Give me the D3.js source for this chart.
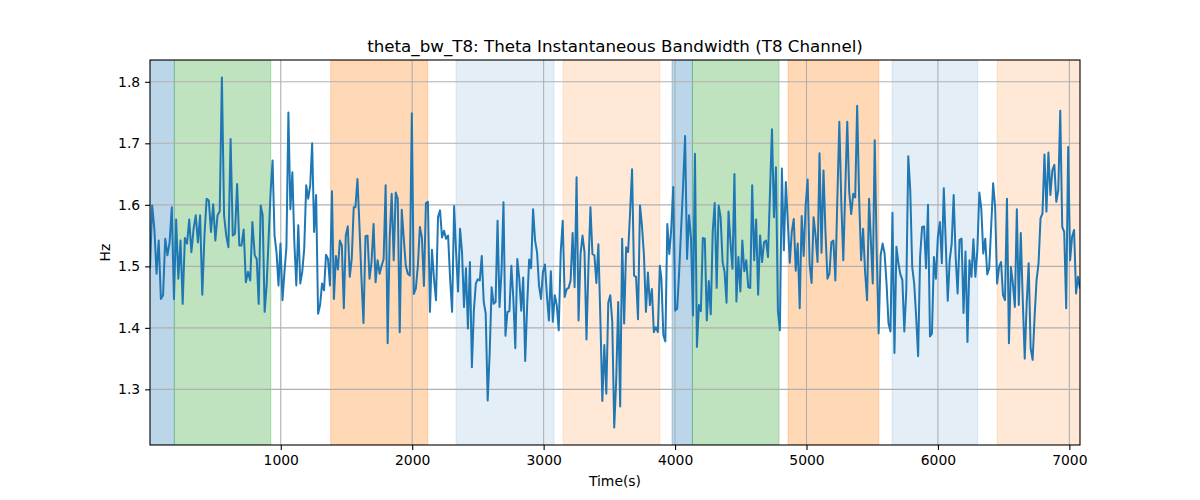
<!DOCTYPE html>
<html><head><meta charset="utf-8">
<script src="https://cdn.jsdelivr.net/npm/d3@7"></script>
<style>body{margin:0;background:#fff} text{font-family:"DejaVu Sans",sans-serif}</style>
</head><body><svg id="chart" width="1200" height="500"></svg>
<script>
// ---- data ----
const titleText = "theta_bw_T8: Theta Instantaneous Bandwidth (T8 Channel)";
const xLabel = "Time(s)";
const yLabel = "Hz";
const xTicks = [1000, 2000, 3000, 4000, 5000, 6000, 7000];
const yTicks = [1.3, 1.4, 1.5, 1.6, 1.7, 1.8];

// recording pieces: start / end time (s) of each traced stretch of samples
const partStart = [5, 802, 1568, 2334, 3130, 3896, 4677, 5504];
const partEnd   = [784, 1555, 2319, 3115, 3884, 4662, 5476, 7081];

const bw1 = [1.496,1.599,1.561,1.488,1.542,1.447,1.453,1.545,1.518,1.539,
1.596,1.447,1.576,1.480,1.542,1.439,1.546,1.537,1.576,1.523,
1.561,1.583,1.539,1.583,1.454,1.550,1.610,1.607,1.556,1.601,
1.542,1.583,1.589,1.807,1.583,1.550,1.531,1.707,1.550,1.553,
1.634,1.534,1.534,1.560,1.474,1.491,1.477,1.572];
const bw2 = [1.518,1.512,1.439,1.599,1.583,1.426,1.469,1.545,1.620,1.672,
1.550,1.523,1.469,1.537,1.445,1.491,1.531,1.750,1.593,1.653,
1.539,1.469,1.567,1.472,1.491,1.529,1.632,1.610,1.631,1.700,
1.556,1.616,1.423,1.437,1.472,1.461,1.519,1.512,1.469,1.622,
1.447,1.517,1.495,1.542,1.534,1.432,1.550,1.565,1.483,1.512,
1.596];
const bw3 = [1.596,1.642,1.566,1.480,1.408,1.549,1.550,1.480,1.507,1.569,
1.474,1.510,1.488,1.501,1.512,1.632,1.375,1.545,1.618,1.510,
1.620,1.610,1.393,1.592,1.545,1.501,1.488,1.485,1.749,1.455,
1.464,1.501,1.564,1.547,1.468,1.603,1.605,1.426,1.527,1.480,
1.445,1.580,1.591,1.547,1.558,1.545,1.550,1.480,1.426,1.598];
const bw4 = [1.523,1.459,1.561,1.523,1.434,1.497,1.399,1.507,1.336,1.428,
1.472,1.479,1.477,1.517,1.442,1.423,1.282,1.358,1.466,1.439,
1.442,1.574,1.434,1.491,1.604,1.387,1.426,1.427,1.501,1.447,
1.367,1.512,1.480,1.428,1.482,1.346,1.437,1.511,1.497,1.593,
1.542,1.523,1.469,1.447,1.491,1.503,1.453,1.412,1.492,1.410,
1.453,1.437,1.396];
const bw5 = [1.523,1.574,1.450,1.463,1.465,1.477,1.554,1.466,1.645,1.412,
1.520,1.550,1.523,1.381,1.501,1.596,1.520,1.518,1.473,1.536,
1.415,1.281,1.372,1.293,1.441,1.453,1.410,1.238,1.315,1.442,
1.272,1.545,1.407,1.531,1.523,1.588,1.658,1.485,1.483,1.414,
1.599,1.566,1.518,1.426,1.490,1.437,1.463,1.393,1.401,1.393,
1.501];
const bw6 = [1.480,1.388,1.378,1.569,1.520,1.561,1.629,1.428,1.431,1.491,
1.561,1.631,1.712,1.512,1.583,1.545,1.420,1.683,1.369,1.437,
1.427,1.546,1.545,1.412,1.476,1.422,1.556,1.603,1.465,1.599,
1.580,1.507,1.491,1.441,1.589,1.539,1.496,1.650,1.443,1.515,
1.459,1.542,1.492,1.510,1.466,1.465,1.632,1.510,1.576,1.454,
1.550,1.507];
const bw7 = [1.539,1.542,1.515,1.620,1.723,1.580,1.661,1.428,1.396,1.659,
1.526,1.637,1.572,1.506,1.556,1.577,1.493,1.537,1.432,1.582,
1.517,1.599,1.641,1.504,1.473,1.580,1.550,1.507,1.684,1.522,
1.656,1.556,1.480,1.488,1.539,1.542,1.477,1.610,1.735,1.604,
1.510,1.626,1.735,1.620,1.585,1.618,1.612,1.761,1.610,1.510,
1.561,1.491,1.445,1.610];
const bw8 = [1.472,1.705,1.526,1.391,1.518,1.537,1.521,1.472,1.407,1.394,
1.587,1.359,1.532,1.505,1.487,1.478,1.394,1.461,1.679,1.624,
1.499,1.472,1.418,1.354,1.516,1.564,1.565,1.497,1.600,1.386,
1.391,1.515,1.480,1.548,1.572,1.505,1.627,1.537,1.444,1.510,
1.537,1.616,1.516,1.456,1.543,1.545,1.424,1.524,1.377,1.510,
1.483,1.544,1.483,1.526,1.620,1.594,1.521,1.545,1.487,1.497,
1.564,1.635,1.597,1.472,1.499,1.507,1.453,1.445,1.610,1.375,
1.499,1.472,1.434,1.593,1.437,1.554,1.445,1.350,1.440,1.505,
1.367,1.348,1.418,1.478,1.505,1.578,1.586,1.682,1.589,1.685,
1.616,1.656,1.665,1.605,1.624,1.753,1.564,1.556,1.432,1.694,
1.510,1.548,1.559,1.456,1.483,1.464];
const parts = [bw1, bw2, bw3, bw4, bw5, bw6, bw7, bw8];

// shaded intervals (s)
const spanStart = [0, 190, 1380, 2334, 3148, 3977, 4132, 4860, 5651, 6450];
const spanEnd   = [190, 924, 2118, 3079, 3884, 4132, 4791, 5550, 6303, 7081];
const spanKind  = ["blue","green","orange","lightblue","lightorange","blue","green","orange","lightblue","lightorange"];

// ---- styles ----
const spanStyle = {
  blue: {c:"#1f77b4", a:0.3}, green: {c:"#2ca02c", a:0.3}, orange: {c:"#ff7f0e", a:0.3},
  lightblue: {c:"#1f77b4", a:0.12}, lightorange: {c:"#ff7f0e", a:0.17}
};

const points = [];
parts.forEach((vals, k) => {
  const n = vals.length, s = partStart[k], e = partEnd[k];
  vals.forEach((v, i) => points.push({t: s + i * (e - s) / (n - 1), v}));
});

const W = 1200, H = 500;
const m = {l:150, r:120, t:60, b:55};
const pw = W - m.l - m.r, ph = H - m.t - m.b;
const svg = d3.select("#chart");
const g = svg.append("g").attr("transform", `translate(${m.l},${m.t})`);

const xExt = d3.extent(points, d => d.t);
const x = d3.scaleLinear().domain(xExt).range([0, pw]);
const yExt = d3.extent(points, d => d.v);
const pad = (yExt[1] - yExt[0]) * 0.05;
const y = d3.scaleLinear().domain([yExt[0] - pad, yExt[1] + pad]).range([ph, 0]);

svg.append("defs").append("clipPath").attr("id","clip").append("rect").attr("width", pw).attr("height", ph);
const plot = g.append("g").attr("clip-path","url(#clip)");

// spans
plot.selectAll("rect.span").data(spanStart.map((s,i)=>({s, e:spanEnd[i], k:spanKind[i]})))
  .enter().append("rect").attr("class","span")
  .attr("x", d => x(d.s)).attr("width", d => x(d.e) - x(d.s))
  .attr("y", 0).attr("height", ph)
  .attr("fill", d => spanStyle[d.k].c).attr("fill-opacity", d => spanStyle[d.k].a)
  .attr("stroke", d => spanStyle[d.k].c).attr("stroke-opacity", d => spanStyle[d.k].a).attr("stroke-width", 1);

// grid
plot.selectAll("line.gx").data(xTicks).enter().append("line")
  .attr("x1", d => x(d)).attr("x2", d => x(d)).attr("y1", 0).attr("y2", ph)
  .attr("stroke", "#b0b0b0").attr("stroke-width", 1.1);
plot.selectAll("line.gy").data(yTicks).enter().append("line")
  .attr("y1", d => y(d)).attr("y2", d => y(d)).attr("x1", 0).attr("x2", pw)
  .attr("stroke", "#b0b0b0").attr("stroke-width", 1.1);

// line
plot.append("path").datum(points)
  .attr("d", d3.line().x(d => x(d.t)).y(d => y(d.v)))
  .attr("fill","none").attr("stroke","#1f77b4").attr("stroke-width",2.0).attr("stroke-linejoin","round");

// axes
const fs = 13.9;
const xa = g.append("g").attr("transform",`translate(0,${ph})`)
  .call(d3.axisBottom(x).tickValues(xTicks).tickFormat(d3.format("d")).tickSize(4.9).tickPadding(4.9).tickSizeOuter(0));
const ya = g.append("g")
  .call(d3.axisLeft(y).tickValues(yTicks).tickFormat(d3.format(".1f")).tickSize(4.9).tickPadding(4.9).tickSizeOuter(0));
[xa, ya].forEach(a => {
  a.select(".domain").remove();
  a.selectAll(".tick line").attr("stroke","#000").attr("stroke-width",1.1);
  a.selectAll(".tick text").attr("font-size", fs).attr("fill","#000").attr("font-family","DejaVu Sans");
});

// spines
g.append("rect").attr("width", pw).attr("height", ph).attr("fill","none").attr("stroke","#000").attr("stroke-width",1.1);

// labels
svg.append("text").attr("x", m.l + pw/2).attr("y", 52).attr("text-anchor","middle")
  .attr("font-size", 16.7).attr("fill","#000").text(titleText);
svg.append("text").attr("x", m.l + pw/2).attr("y", 486).attr("text-anchor","middle")
  .attr("font-size", fs).attr("fill","#000").text(xLabel);
svg.append("text").attr("transform", `translate(110,${m.t + ph/2}) rotate(-90)`).attr("text-anchor","middle")
  .attr("font-size", fs).attr("fill","#000").text(yLabel);
</script></body></html>
